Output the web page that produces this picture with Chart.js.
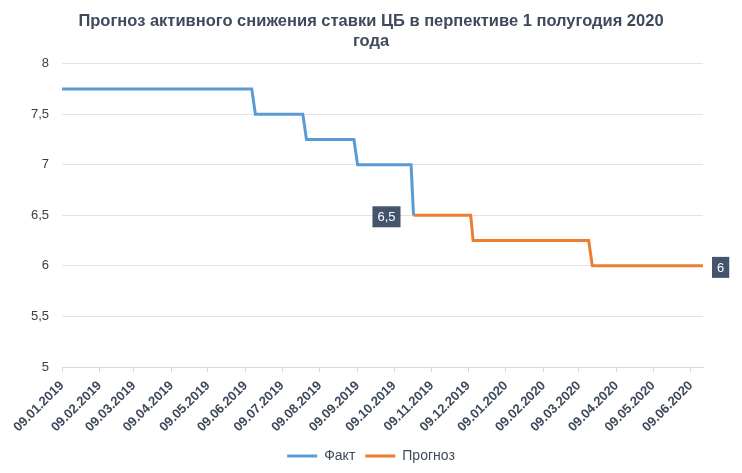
<!DOCTYPE html>
<html lang="ru">
<head>
<meta charset="UTF-8" />
<title>Прогноз ставки ЦБ</title>
<script src="https://cdn.jsdelivr.net/npm/chart.js"></script>
<style>
    body { margin: 0; background: #ffffff; }
    .wrap { width: 742px; height: 473px; position: relative; }
</style>
</head>
<body>
<div class="wrap"><canvas id="rateChart"></canvas></div>
<script>
    // data
    const factDates = ['09.01.2019', '14.06.2019', '17.06.2019', '26.07.2019', '29.07.2019', '06.09.2019', '09.09.2019', '23.10.2019', '25.10.2019'];
    const factValues = [7.75, 7.75, 7.5, 7.5, 7.25, 7.25, 7.0, 7.0, 6.5];
    const forecastDates = ['25.10.2019', '11.12.2019', '13.12.2019', '17.03.2020', '20.03.2020', '19.06.2020'];
    const forecastValues = [6.5, 6.5, 6.25, 6.25, 6.0, 6.0];
    const tickLabels = ['09.01.2019', '09.02.2019', '09.03.2019', '09.04.2019', '09.05.2019', '09.06.2019',
        '09.07.2019', '09.08.2019', '09.09.2019', '09.10.2019', '09.11.2019', '09.12.2019',
        '09.01.2020', '09.02.2020', '09.03.2020', '09.04.2020', '09.05.2020', '09.06.2020'];
    const yMin = 5, yMax = 8, yStep = 0.5;

    const FONT = "'Liberation Sans', Arial, sans-serif";
    const SLATE = '#3e4a5c';

    // days since the first date
    function dayOf(s) {
        const p = s.split('.');
        return (Date.UTC(+p[2], +p[1] - 1, +p[0]) - Date.UTC(2019, 0, 9)) / 86400000;
    }
    const toPoints = (dates, vals) => dates.map((d, i) => ({ x: dayOf(d), y: vals[i] }));
    const tickMap = {};
    tickLabels.forEach(s => tickMap[dayOf(s)] = s);
    const fmt = v => String(v).replace('.', ',');

    // value boxes on the last points
    const valueBoxes = {
        id: 'valueBoxes',
        afterDatasetsDraw(chart) {
            const ctx = chart.ctx;
            const sides = ['left', 'right'];
            chart.data.datasets.forEach((ds, i) => {
                const meta = chart.getDatasetMeta(i);
                const el = meta.data[meta.data.length - 1];
                const txt = fmt(ds.data[ds.data.length - 1].y);
                ctx.save();
                ctx.font = '13px ' + FONT;
                const w = ctx.measureText(txt).width + 10, h = 21;
                const x = sides[i] === 'left' ? el.x - 13 - w : el.x + 9;
                const y = el.y - h / 2 + 1.5;
                ctx.fillStyle = '#44546a';
                ctx.fillRect(x, y, w, h);
                ctx.fillStyle = '#ffffff';
                ctx.textAlign = 'center';
                ctx.textBaseline = 'middle';
                ctx.fillText(txt, x + w / 2, y + h / 2 + 1);
                ctx.restore();
            });
        }
    };

    new Chart(document.getElementById('rateChart'), {
        type: 'line',
        data: {
            datasets: [
                { label: 'Факт', data: toPoints(factDates, factValues), borderColor: '#5b9bd5', backgroundColor: '#5b9bd5', borderWidth: 3, pointRadius: 0, tension: 0 },
                { label: 'Прогноз', data: toPoints(forecastDates, forecastValues), borderColor: '#ed7d31', backgroundColor: '#ed7d31', borderWidth: 3, pointRadius: 0, tension: 0 }
            ]
        },
        options: {
            responsive: true,
            maintainAspectRatio: false,
            animation: false,
            layout: { padding: 0 },
            plugins: {
                title: {
                    display: true,
                    text: ['Прогноз активного снижения ставки ЦБ в перпективе 1 полугодия 2020', 'года'],
                    color: SLATE,
                    font: { family: FONT, size: 16.5, weight: 'bold', lineHeight: 1.2 },
                    padding: { top: 12, bottom: 12 }
                },
                legend: {
                    position: 'bottom',
                    labels: {
                        usePointStyle: true,
                        pointStyle: 'line',
                        pointStyleWidth: 30,
                        color: SLATE,
                        font: { family: FONT, size: 14 },
                        padding: 10
                    }
                },
                tooltip: { enabled: false }
            },
            scales: {
                x: {
                    type: 'linear',
                    min: 0,
                    max: dayOf(forecastDates[forecastDates.length - 1]),
                    afterBuildTicks: s => { s.ticks = tickLabels.map(l => ({ value: dayOf(l) })); },
                    afterFit: s => { s.height = 72; },
                    ticks: {
                        autoSkip: false,
                        maxRotation: 45,
                        minRotation: 45,
                        color: SLATE,
                        font: { family: FONT, size: 13, weight: 'bold' },
                        padding: 6,
                        callback: v => tickMap[v] || ''
                    },
                    grid: { drawOnChartArea: false, drawTicks: true, tickLength: 5, color: '#d9d9d9' },
                    border: { display: true, color: '#d9d9d9' }
                },
                y: {
                    min: yMin,
                    max: yMax,
                    afterFit: s => { s.width = 62; },
                    ticks: {
                        stepSize: yStep,
                        color: '#404040',
                        font: { family: FONT, size: 13 },
                        padding: 13,
                        callback: v => fmt(v)
                    },
                    grid: { color: '#e3e3e3', drawTicks: false },
                    border: { display: false }
                },
                // empty right margin for the value box
                gap: {
                    position: 'right',
                    min: yMin,
                    max: yMax,
                    afterFit: s => { s.width = 39; },
                    ticks: { display: false },
                    grid: { display: false },
                    border: { display: false }
                }
            }
        },
        plugins: [valueBoxes]
    });
</script>
</body>
</html>
